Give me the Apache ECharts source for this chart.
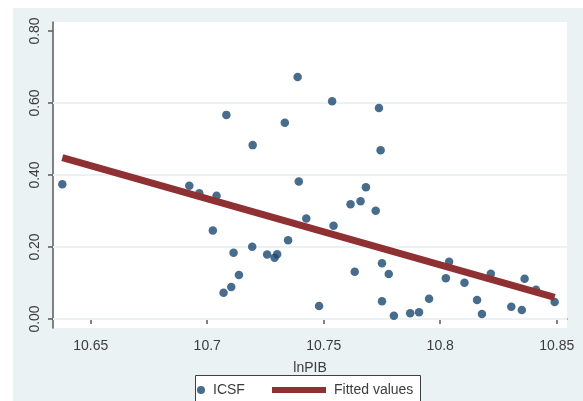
<!DOCTYPE html>
<html>
<head>
<meta charset="utf-8">
<script src="https://cdn.jsdelivr.net/npm/echarts@6/dist/echarts.min.js"></script>
<style>
html,body{margin:0;padding:0;background:#ffffff;}
#chart{width:583px;height:401px;}
</style>
</head>
<body>
<div id="chart"></div>
<script>
// ICSF observations: [lnPIB, ICSF]
const lnPIB = [10.6378,10.6923,10.6966,10.7040,10.7024,10.7070,10.7082,10.7103,10.7113,10.7136,
  10.7193,10.7195,10.7257,10.7289,10.7300,10.7333,10.7347,10.7388,10.7393,10.7425,
  10.7480,10.7536,10.7542,10.7615,10.7633,10.7658,10.7681,10.7723,10.7737,10.7744,
  10.7750,10.7750,10.7779,10.7801,10.7871,10.7909,10.7952,10.8024,10.8038,10.8104,
  10.8158,10.8179,10.8217,10.8305,10.8350,10.8362,10.8411,10.8491];
const icsf = [0.374,0.370,0.349,0.3425,0.246,0.073,0.567,0.089,0.184,0.122,
  0.201,0.483,0.179,0.170,0.180,0.545,0.219,0.672,0.382,0.279,
  0.036,0.605,0.259,0.319,0.131,0.327,0.366,0.301,0.586,0.469,
  0.155,0.049,0.125,0.009,0.016,0.019,0.056,0.113,0.159,0.101,
  0.053,0.014,0.126,0.034,0.025,0.112,0.081,0.047];
// Fitted values line endpoints
const fitX = [10.6378, 10.8491];
const fitY = [0.448, 0.060];
// Axis ticks
const xTickValues = [10.65, 10.70, 10.75, 10.80, 10.85];
const xTickLabels = ['10.65', '10.7', '10.75', '10.8', '10.85'];
const yTickValues = [0, 0.2, 0.4, 0.6, 0.8];
const yTickLabels = ['0.00', '0.20', '0.40', '0.60', '0.80'];
const yGridValues = [0, 0.2, 0.4, 0.6];

const FONT = 'Liberation Sans, Arial, sans-serif';
const navy = '#1a476f';
const maroon = '#8f3033';
const bg = '#eaf2f3';
const axisCol = '#5a5a5a';
const textCol = '#3c3c3c';
const X_MIN = 10.6338, X_MAX = 10.8544;

function lab(values, labels) {
  return function (v) {
    for (let i = 0; i < values.length; i++) {
      if (Math.abs(values[i] - v) < 1e-6) return labels[i];
    }
    return '';
  };
}

const gridSeries = yGridValues.map(v => ({
  type: 'line', name: '_grid' + v, z: 1, silent: true,
  showSymbol: false, symbol: 'none',
  lineStyle: {color: bg, width: 2},
  emphasis: {disabled: true},
  data: [[X_MIN, v], [X_MAX, v]]
}));

const chart = echarts.init(document.getElementById('chart'), null, {renderer: 'canvas'});
chart.setOption({
  animation: false,
  graphic: [
    {type: 'rect', z: -100, shape: {x: 13, y: 8, width: 570, height: 393}, style: {fill: bg}},
    {type: 'rect', z: -50, shape: {x: 195.5, y: 375.5, width: 225, height: 40}, style: {fill: '#ffffff', stroke: '#404040', lineWidth: 1}}
  ],
  grid: {left: 53, top: 22, right: 16, bottom: 73, show: true, backgroundColor: '#ffffff', borderWidth: 0},
  xAxis: {
    type: 'value', min: X_MIN, max: X_MAX,
    name: 'lnPIB', nameLocation: 'middle', nameGap: 33,
    nameTextStyle: {fontFamily: FONT, fontSize: 14, color: textCol},
    axisLine: {show: true, lineStyle: {color: axisCol, width: 1.5}},
    axisTick: {show: true, length: 5, lineStyle: {color: axisCol, width: 1.5}, customValues: xTickValues},
    axisLabel: {show: true, margin: 11, fontFamily: FONT, fontSize: 14, color: textCol,
      customValues: xTickValues, formatter: lab(xTickValues, xTickLabels)},
    splitLine: {show: false}
  },
  yAxis: {
    type: 'value', min: -0.025, max: 0.825,
    axisLine: {show: true, lineStyle: {color: axisCol, width: 1.5}},
    axisTick: {show: true, length: 5, lineStyle: {color: axisCol, width: 1.5}, customValues: yTickValues},
    axisLabel: {show: true, margin: 11, rotate: 90, fontFamily: FONT, fontSize: 14, color: textCol,
      customValues: yTickValues, formatter: lab(yTickValues, yTickLabels)},
    splitLine: {show: false}
  },
  legend: [
    {
      left: 197, top: 383, padding: 0, itemWidth: 14, itemHeight: 8,
      textStyle: {fontFamily: FONT, fontSize: 14, color: textCol},
      data: [{name: 'ICSF', icon: 'circle'}]
    },
    {
      left: 272, top: 383, padding: 0, itemWidth: 54, itemHeight: 6,
      textStyle: {fontFamily: FONT, fontSize: 14, color: textCol, padding: [0, 0, 0, 3]},
      data: [{name: 'Fitted values', icon: 'rect'}]
    }
  ],
  series: gridSeries.concat([
    {
      type: 'scatter', name: 'ICSF', z: 3,
      symbol: 'circle', symbolSize: 8.5,
      itemStyle: {color: navy},
      data: lnPIB.map((x, i) => [x, icsf[i]])
    },
    {
      type: 'line', name: 'Fitted values', z: 4,
      showSymbol: false, symbol: 'none',
      lineStyle: {color: maroon, width: 7},
      itemStyle: {color: maroon},
      data: fitX.map((x, i) => [x, fitY[i]])
    }
  ])
});
</script>
</body>
</html>
